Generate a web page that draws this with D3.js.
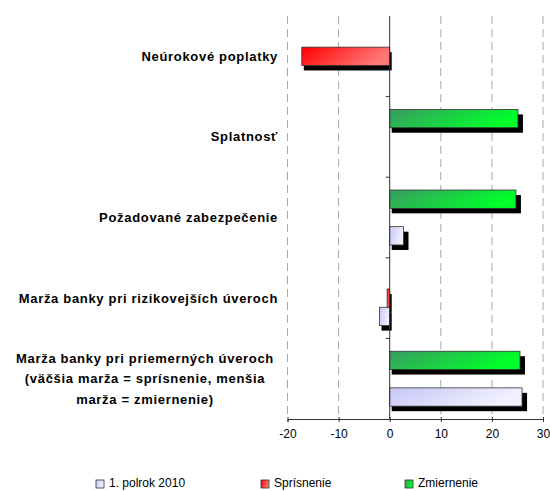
<!DOCTYPE html>
<html>
<head>
<meta charset="utf-8">
<title>Podmienky úverov</title>
<script src="https://cdn.jsdelivr.net/npm/d3@7"></script>
<style>
body { margin: 0; background: #fff; font-family: "Liberation Sans", Arial, sans-serif; }
.cat { font-size: 13px; font-weight: bold; fill: #000; letter-spacing: 0.68px; }
.tick text { font-size: 12px; font-family: "Liberation Sans", Arial, sans-serif; }
.legend text { font-size: 12px; }
</style>
</head>
<body>
<div id="chart"></div>
<script>
// categories, top to bottom
var categories = [
  "Neúrokové poplatky",
  "Splatnosť",
  "Požadované zabezpečenie",
  "Marža banky pri rizikovejších úveroch",
  "Marža banky pri priemerných úveroch (väčšia marža = sprísnenie, menšia marža = zmiernenie)"
];
var catLines = [
  ["Neúrokové poplatky"],
  ["Splatnosť"],
  ["Požadované zabezpečenie"],
  ["Marža banky pri rizikovejších úveroch"],
  ["Marža banky pri priemerných úveroch", "(väčšia marža = sprísnenie, menšia", "marža = zmiernenie)"]
];
var seriesNames = ["1. polrok 2010", "Sprísnenie", "Zmiernenie"];
var polrok2010 = [0, 0, 2.7, -2.0, 25.9];
var sprisnenie = [-17.2, 0, 0, -0.5, 0];
var zmiernenie = [0, 25.1, 24.7, 0, 25.5];
var xTicks = [-20, -10, 0, 10, 20, 30];

var width = 550, height = 491;

var svg = d3.select("#chart").append("svg")
    .attr("width", width)
    .attr("height", height);

var defs = svg.append("defs");
var grads = {
  "1. polrok 2010": ["#c6c6f7", "#f2f2ff"],
  "Sprísnenie": ["#ff0000", "#ff7878"],
  "Zmiernenie": ["#3a9a62", "#00ff2a"]
};
Object.keys(grads).forEach(function(k, i) {
  var g = defs.append("linearGradient")
      .attr("id", "g" + i)
      .attr("x1", 0).attr("y1", 0).attr("x2", 1).attr("y2", 0.3);
  g.append("stop").attr("offset", "0%").attr("stop-color", grads[k][0]);
  g.append("stop").attr("offset", "100%").attr("stop-color", grads[k][1]);
});
function fillOf(name) { return "url(#g" + Object.keys(grads).indexOf(name) + ")"; }

var x = d3.scaleLinear().domain([-20, 30]).range([287.5, 543]);
var y = d3.scaleBand().domain(categories).range([16, 419]);
// bar order inside a category, top to bottom
var y1 = d3.scaleBand()
    .domain(["Zmiernenie", "Sprísnenie", "1. polrok 2010"])
    .range([0, y.bandwidth()])
    .paddingOuter(0.7);

// dashed gridlines
svg.append("g").selectAll("line")
  .data(xTicks.filter(function(d) { return d !== 0; }))
  .enter().append("line")
    .attr("x1", function(d) { return x(d); })
    .attr("x2", function(d) { return x(d); })
    .attr("y1", 16).attr("y2", 419)
    .attr("stroke", "#a8a8a8")
    .attr("stroke-dasharray", "8,5");

// data per bar
var bars = [];
categories.forEach(function(c, i) {
  bars.push({cat: c, s: "1. polrok 2010", v: polrok2010[i]});
  bars.push({cat: c, s: "Sprísnenie", v: sprisnenie[i]});
  bars.push({cat: c, s: "Zmiernenie", v: zmiernenie[i]});
});
bars = bars.filter(function(d) { return d.v !== 0; });

function bx(d) { return Math.min(x(0), x(d.v)); }
function bw(d) { return Math.abs(x(d.v) - x(0)); }
function by(d) { return y(d.cat) + y1(d.s); }

// shadows
svg.append("g").selectAll("rect")
  .data(bars)
  .enter().append("rect")
    .attr("x", function(d) { return bx(d) + 2; })
    .attr("y", function(d) { return by(d) + 5; })
    .attr("width", function(d) { return bw(d) + (d.v > 0 ? 3 : 0); })
    .attr("height", y1.bandwidth())
    .attr("fill", "#000");

svg.append("g").selectAll("rect")
  .data(bars)
  .enter().append("rect")
    .attr("x", bx)
    .attr("y", by)
    .attr("width", bw)
    .attr("height", y1.bandwidth())
    .attr("fill", function(d) { return fillOf(d.s); })
    .attr("stroke", "#333")
    .attr("stroke-width", 0.8);

// zero line with category ticks
svg.append("line")
    .attr("x1", x(0)).attr("x2", x(0))
    .attr("y1", 16).attr("y2", 419)
    .attr("stroke", "#333");
svg.append("g").selectAll("line")
  .data(categories.slice(1))
  .enter().append("line")
    .attr("x1", x(0) - 4).attr("x2", x(0))
    .attr("y1", function(d) { return y(d); })
    .attr("y2", function(d) { return y(d); })
    .attr("stroke", "#333");

// x axis
var xAxis = svg.append("g")
    .attr("transform", "translate(0,419)")
    .call(d3.axisBottom(x).tickValues(xTicks)
      .tickFormat(function(d) { return String(d); })
      .tickSizeOuter(0).tickSize(3).tickPadding(7));
xAxis.select(".domain").attr("stroke", "#333");
xAxis.selectAll(".tick line").attr("y1", -2).attr("stroke", "#333");
xAxis.selectAll(".tick text").attr("fill", "#000");

// category labels
var labels = svg.append("g");
catLines.forEach(function(lines, i) {
  var cy = y(categories[i]) + y.bandwidth() / 2;
  var t = labels.append("text").attr("class", "cat")
      .attr("text-anchor", lines.length > 1 ? "middle" : "end");
  lines.forEach(function(l, j) {
    t.append("tspan")
      .attr("x", lines.length > 1 ? 145 : 278)
      .attr("y", cy + 4.5 + (j - (lines.length - 1) / 2) * 20.5)
      .text(l);
  });
});

// legend
var legX = [96, 261, 405];
var leg = svg.append("g").attr("class", "legend");
seriesNames.forEach(function(s, i) {
  leg.append("rect")
    .attr("x", legX[i]).attr("y", 480)
    .attr("width", 8).attr("height", 8)
    .attr("fill", fillOf(s))
    .attr("stroke", "#333").attr("stroke-width", 0.8);
  leg.append("text")
    .attr("x", legX[i] + 13).attr("y", 487)
    .text(s);
});
</script>
</body>
</html>
